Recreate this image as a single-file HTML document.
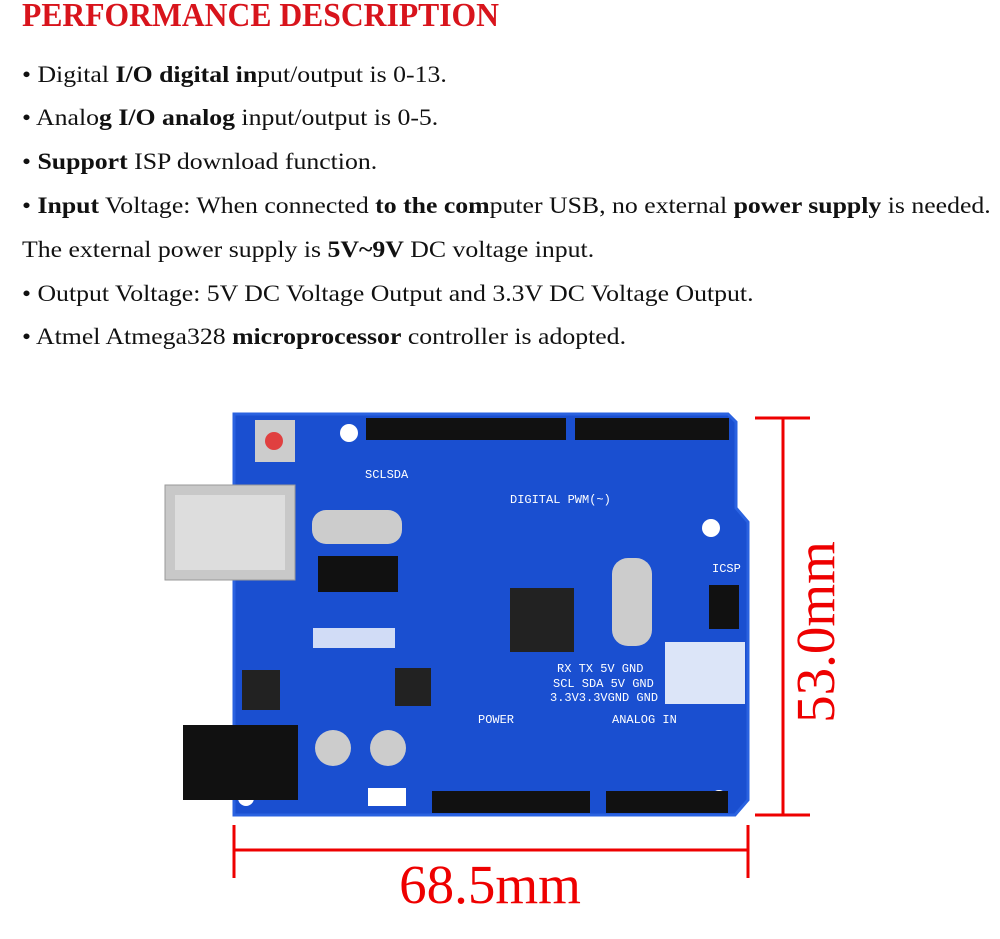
<!DOCTYPE html>
<html><head><meta charset="utf-8"><style>
body{margin:0;width:1000px;height:939px;background:#fff;position:relative;overflow:hidden;font-family:"Liberation Serif",serif}
.t{position:absolute;left:22px;top:-3px;color:#d8141c;font-size:34px;font-weight:bold;transform:scaleX(0.93);transform-origin:left top;white-space:nowrap}
.l{position:absolute;left:22px;font-size:23px;color:#111;white-space:nowrap;transform:scaleX(1.12);transform-origin:left top}
.a{position:absolute}
</style></head><body>
<div class="t">PERFORMANCE DESCRIPTION</div>
<div class="l" style="top:62px">• Digital <b>I/O digital in</b>put/output is 0-13.</div>
<div class="l" style="top:105px">• Analo<b>g I/O analog</b> input/output is 0-5.</div>
<div class="l" style="top:149px">• <b>Support</b> ISP download function.</div>
<div class="l" style="top:193px">• <b>Input</b> Voltage: When connected <b>to the com</b>puter USB, no external <b>power supply</b> is needed.</div>
<div class="l" style="top:237px">The external power supply is <b>5V~9V</b> DC voltage input.</div>
<div class="l" style="top:281px">• Output Voltage: 5V DC Voltage Output and 3.3V DC Voltage Output.</div>
<div class="l" style="top:324px">• Atmel Atmega328 <b>microprocessor</b> controller is adopted.</div>

<svg class="a" style="left:0;top:0" width="1000" height="939">
<path d="M234 414 H728 L736 422 V508 L748 522 V800 L735 815 H234 Z" fill="#1a4fd0"/>
<path d="M234 414 H728 L736 422 V508 L748 522 V800 L735 815 H234 Z" fill="none" stroke="#2a62e0" stroke-width="3"/>
<circle cx="349" cy="433" r="9" fill="#fff"/><circle cx="711" cy="528" r="9" fill="#fff"/>
<circle cx="719" cy="798" r="8" fill="#fff"/><circle cx="246" cy="798" r="8" fill="#fff"/>
<rect x="255" y="420" width="40" height="42" fill="#ccc"/><circle cx="274" cy="441" r="9" fill="#e04040"/>
<rect x="366" y="418" width="200" height="22" fill="#111"/>
<rect x="575" y="418" width="154" height="22" fill="#111"/>
<rect x="432" y="791" width="158" height="22" fill="#111"/>
<rect x="606" y="791" width="122" height="22" fill="#111"/>
<rect x="165" y="485" width="130" height="95" fill="#c8c8c8" stroke="#999"/>
<rect x="175" y="495" width="110" height="75" fill="#ddd"/>
<rect x="183" y="725" width="115" height="75" fill="#111"/>
<rect x="312" y="510" width="90" height="34" rx="14" fill="#ccc"/>
<rect x="318" y="556" width="80" height="36" fill="#111"/>
<rect x="510" y="588" width="64" height="64" fill="#222"/>
<rect x="612" y="558" width="40" height="88" rx="16" fill="#ccc"/>
<rect x="709" y="585" width="30" height="44" fill="#111"/>
<rect x="665" y="642" width="80" height="62" fill="#fff" opacity=".85"/>
<rect x="242" y="670" width="38" height="40" fill="#222"/>
<rect x="395" y="668" width="36" height="38" fill="#222"/>
<circle cx="333" cy="748" r="18" fill="#ccc"/><circle cx="388" cy="748" r="18" fill="#ccc"/>
<rect x="313" y="628" width="82" height="20" fill="#fff" opacity=".8"/>
<rect x="368" y="788" width="38" height="18" fill="#fff"/>
<g fill="#fff" font-family="Liberation Mono,monospace" font-size="12">
<text x="510" y="503">DIGITAL PWM(~)</text><text x="478" y="723">POWER</text><text x="612" y="723">ANALOG IN</text>
<text x="557" y="672">RX TX 5V GND</text><text x="553" y="687">SCL SDA 5V GND</text><text x="550" y="701">3.3V3.3VGND GND</text>
<text x="712" y="572">ICSP</text><text x="365" y="478">SCLSDA</text>
</g>
<g stroke="#e00" stroke-width="3" fill="none">
<line x1="783" y1="418" x2="783" y2="815"/><line x1="755" y1="418" x2="810" y2="418"/><line x1="755" y1="815" x2="810" y2="815"/>
<line x1="234" y1="850" x2="748" y2="850"/><line x1="234" y1="825" x2="234" y2="878"/><line x1="748" y1="825" x2="748" y2="878"/>
</g>
<text x="490" y="903" text-anchor="middle" fill="#e00" font-size="55" font-family="Liberation Serif,serif">68.5mm</text>
<text transform="translate(834,632) rotate(-90)" text-anchor="middle" fill="#e00" font-size="55" font-family="Liberation Serif,serif">53.0mm</text>
</svg>
</body></html>
